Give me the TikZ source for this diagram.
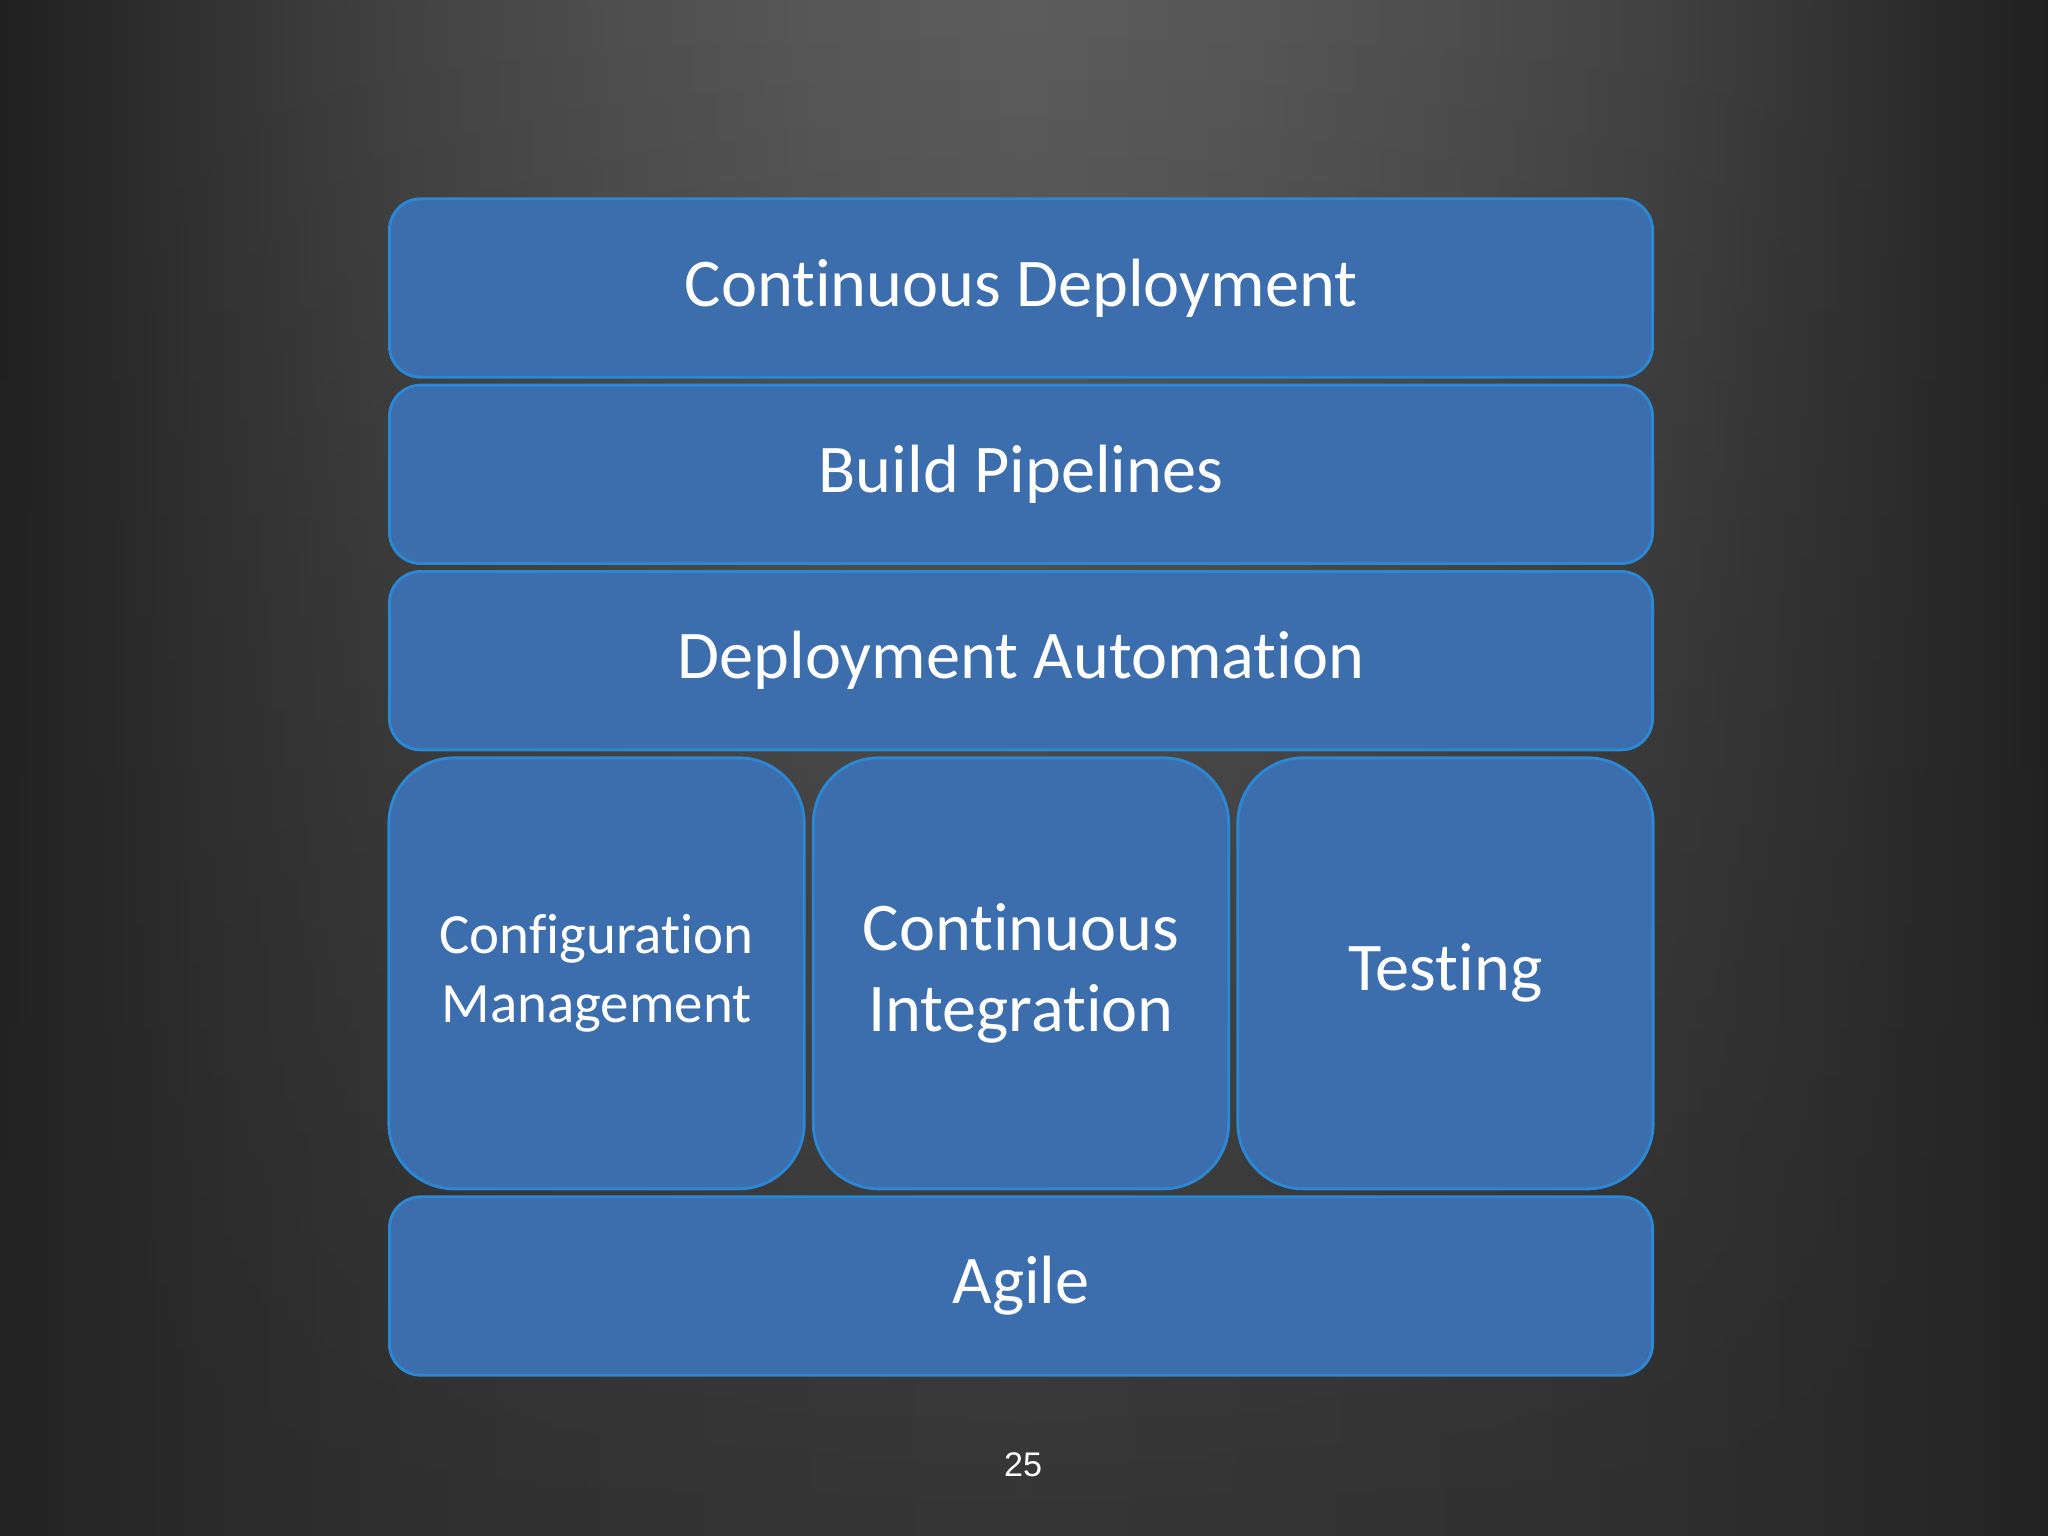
\documentclass[tikz,border=0pt]{standalone}
\usepackage{fontspec}
\setmainfont{Carlito}[Ligatures=NoCommon]
\newfontfamily\pagefont{Liberation Sans}
\usetikzlibrary{positioning,fadings}
\definecolor{boxfill}{HTML}{3C6DAC}
\definecolor{boxline}{HTML}{2B88D4}
\pgfdeclarehorizontalshading{topglow}{100bp}{rgb(0bp)=(.125,.125,.125); rgb(25bp)=(.125,.125,.125); rgb(30bp)=(.2,.2,.2); rgb(35bp)=(.265,.265,.265); rgb(40bp)=(.31,.31,.31); rgb(45bp)=(.345,.345,.345); rgb(50bp)=(.365,.365,.365); rgb(55bp)=(.345,.345,.345); rgb(60bp)=(.31,.31,.31); rgb(65bp)=(.265,.265,.265); rgb(70bp)=(.2,.2,.2); rgb(75bp)=(.125,.125,.125); rgb(100bp)=(.125,.125,.125)}
\pgfdeclarehorizontalshading{lowglow}{100bp}{rgb(0bp)=(.14,.14,.14); rgb(25bp)=(.14,.14,.14); rgb(30bp)=(.165,.165,.165); rgb(37bp)=(.19,.19,.19); rgb(50bp)=(.21,.21,.21); rgb(63bp)=(.19,.19,.19); rgb(70bp)=(.165,.165,.165); rgb(75bp)=(.14,.14,.14); rgb(100bp)=(.14,.14,.14)}

\begin{document}
\begin{tikzpicture}[x=0.3515pt,y=-0.3515pt]
	\tikzstyle{layer}=[draw=boxline,line width=1pt,fill=boxfill,text=white,rounded corners=11pt,minimum width=444pt,minimum height=62.7pt,inner sep=0pt,font=\fontsize{24}{28.5}\selectfont]
	\tikzstyle{pillar}=[layer,rounded corners=23pt,minimum width=146pt,minimum height=151.5pt,align=center]

	\useasboundingbox (0,0) rectangle (2048,1536);
	% background
	\shade[shading=topglow] (0,0) rectangle (2048,1536);
	\shade[shading=lowglow,path fading=north] (0,0) rectangle (2048,1536);

	\node[layer] (deploy) at (1021,288) {Continuous Deployment};
	\node[layer] (pipes) [below=1.8pt of deploy] {Build Pipelines};
	\node[layer] (auto) [below=1.8pt of pipes] {Deployment Automation};
	\node[pillar] (ci) [below=1.8pt of auto] {Continuous\\Integration};
	\node[pillar,font=\fontsize{20}{24}\selectfont] (config) [left=2.2pt of ci] {Configuration\\Management};
	\node[pillar] (test) [right=2.2pt of ci] {Testing};
	\node[layer] (agile) [below=1.8pt of ci] {Agile};

	\node[text=white,font=\pagefont\fontsize{12}{14}\selectfont] (page) at (1023,1465) {25};
\end{tikzpicture}
\end{document}
